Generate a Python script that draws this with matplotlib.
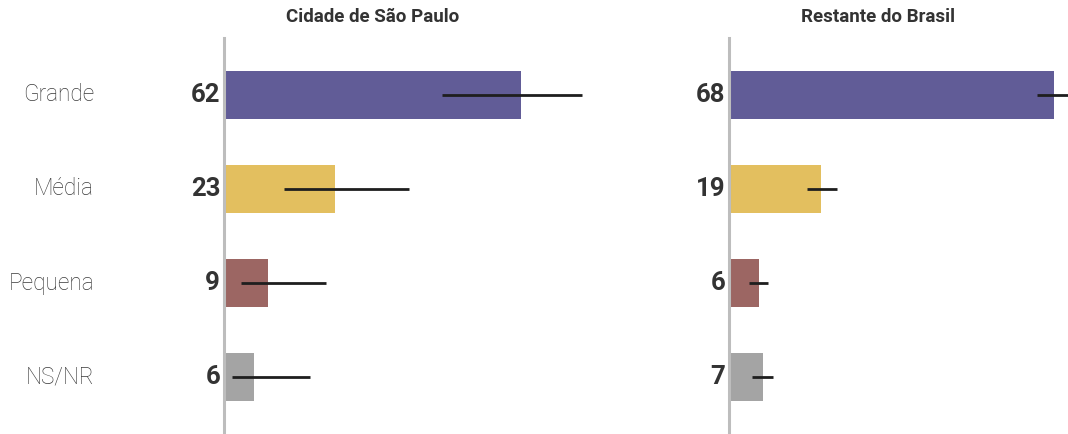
"""Tamanho de empresa preferida: São Paulo vs restante do Brasil."""

import matplotlib

matplotlib.use("Agg")
import matplotlib.pyplot as plt

categories = ["Grande", "Média", "Pequena", "NS/NR"]
colors = ["#615C97", "#E3BF5F", "#9C6663", "#A4A4A4"]

panels = ["Cidade de São Paulo", "Restante do Brasil"]
values = {
    "Cidade de São Paulo": [62, 23, 9, 6],
    "Restante do Brasil": [68, 19, 6, 7],
}
ci_low = {
    "Cidade de São Paulo": [45.8, 12.5, 3.5, 1.6],
    "Restante do Brasil": [64.5, 16.4, 4.1, 4.8],
}
ci_high = {
    "Cidade de São Paulo": [75.0, 38.8, 21.4, 18.0],
    "Restante do Brasil": [71.5, 22.7, 8.1, 9.2],
}

TEXT = "#333333"
AXIS = "#BDBDBD"
W, H = 1068, 434
PX_PER_UNIT = 4.77

fig = plt.figure(figsize=(W / 100, H / 100), dpi=100)
fig.patch.set_facecolor("white")

# left edge, width (px) and title centre (axes fraction) of each panel
boxes = [(224, 420, 0.355), (729, 400, 0.3725)]
ys = list(range(len(categories)))

for i, (name, (x0, wpx, tx)) in enumerate(zip(panels, boxes)):
    ax = fig.add_axes([x0 / W, 0, wpx / W, 396 / H])
    vals = values[name]
    ax.barh(ys, vals, height=0.51, color=colors, left=0.2, zorder=2)
    for y, lo, hi in zip(ys, ci_low[name], ci_high[name]):
        ax.plot([lo, hi], [y, y], color="#1E1E1E", lw=2.0,
                solid_capstyle="butt", zorder=3, clip_on=False)
    for y, v in zip(ys, vals):
        ax.text(-0.8, y, str(v), ha="right", va="center", fontsize=18.5,
                fontweight="bold", color=TEXT, family="Roboto")
    if i == 0:
        for y, c in zip(ys, categories):
            ax.text(-(224 - 94) / PX_PER_UNIT, y, c, ha="right", va="center",
                    fontsize=16.3, fontweight="light", color="#3A3A3A",
                    family="Roboto")
    ax.text(tx, 1.0 + 21 / 396, name, transform=ax.transAxes, ha="center",
            va="center", fontsize=13.5, fontweight="bold", color=TEXT,
            family="Roboto")

    ax.set_xlim(0, wpx / PX_PER_UNIT)
    ax.set_ylim(3.6, -0.6)
    ax.set_xticks([])
    ax.set_yticks([])
    for s in ["top", "right", "bottom"]:
        ax.spines[s].set_visible(False)
    ax.spines["left"].set_color(AXIS)
    ax.spines["left"].set_linewidth(2.2)
    ax.patch.set_alpha(0)

fig.savefig("out.png", dpi=100, facecolor="white")
